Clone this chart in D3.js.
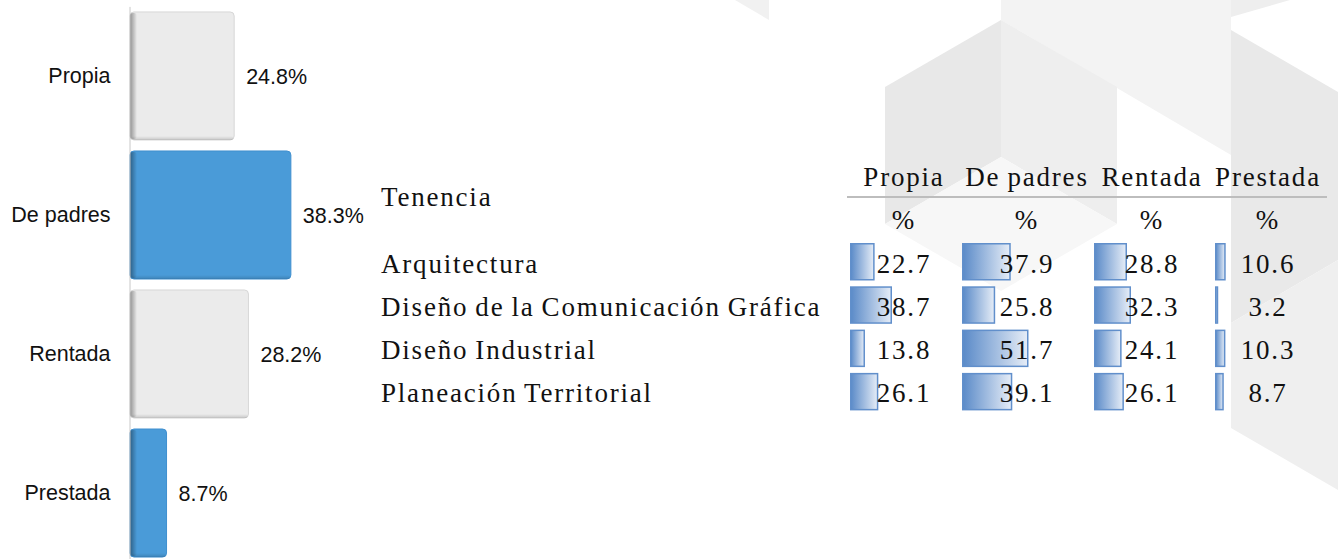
<!DOCTYPE html>
<html><head><meta charset="utf-8">
<script src="https://cdn.jsdelivr.net/npm/d3@7"></script>
<style>body{margin:0;background:#fff;} svg{display:block}</style>
</head><body><svg id="c" width="1338" height="559"></svg>
<script>
// ---------- data ----------
const categories = ["Propia", "De padres", "Rentada", "Prestada"];
const totals = [24.8, 38.3, 28.2, 8.7];
const highlighted = [false, true, false, true];
const tableTitle = "Tenencia";
const programs = ["Arquitectura", "Diseño de la Comunicación Gráfica", "Diseño Industrial", "Planeación Territorial"];
const propia = [22.7, 38.7, 13.8, 26.1];
const dePadres = [37.9, 25.8, 51.7, 39.1];
const rentada = [28.8, 32.3, 24.1, 26.1];
const prestada = [10.6, 3.2, 10.3, 8.7];
const unitLabel = "%";

// ---------- layout / style ----------
const W = 1338, H = 559;
const svg = d3.select("#c");
const defs = svg.append("defs");

// background decoration (faceted light-gray pattern)
const decor = [
  {f:"#f1f1f1", p:[[735,0],[769,0],[769,20]]},
  {f:"#f3f3f3", p:[[1001,0],[1231,0],[1231,155],[1117,88],[1001,20]]},
  {f:"#e8e8e8", p:[[885,87],[1001,20],[1001,157],[885,224]]},
  {f:"#eeeeee", p:[[1001,20],[1117,87],[1117,224],[1001,157]]},
  {f:"#f7f7f7", p:[[885,224],[1001,157],[1117,224],[1001,291]]},
  {f:"#eeeeee", p:[[1231,0],[1290,0],[1231,17]]},
  {f:"#e9e9e9", p:[[1231,30],[1338,92],[1338,260],[1231,323]]},
  {f:"#efefef", p:[[1231,323],[1338,260],[1338,490],[1231,428]]}
];
svg.append("g").selectAll("polygon").data(decor).join("polygon")
  .attr("points", d => d.p.map(q => q.join(",")).join(" "))
  .attr("fill", d => d.f);

// ---------- left bar chart ----------
const sans = "'Liberation Sans', Arial, sans-serif";
const x = d3.scaleLinear().domain([0, 100]).range([130, 550]);
const y = d3.scaleBand().domain(categories).range([6.4, 562.6]).paddingInner(0.079).paddingOuter(0.04);

const lg = defs.append("linearGradient").attr("id","leftShade").attr("x1",0).attr("x2",1).attr("y1",0).attr("y2",0);
lg.append("stop").attr("offset",0).attr("stop-color","#000").attr("stop-opacity",0.38);
lg.append("stop").attr("offset",1).attr("stop-color","#000").attr("stop-opacity",0);
const bg = defs.append("linearGradient").attr("id","botShade").attr("x1",0).attr("x2",0).attr("y1",0).attr("y2",1);
bg.append("stop").attr("offset",0).attr("stop-color","#000").attr("stop-opacity",0);
bg.append("stop").attr("offset",1).attr("stop-color","#000").attr("stop-opacity",0.15);

const barsData = categories.map((c,i) => ({c, v: totals[i], h: highlighted[i]}));
const gb = svg.append("g");
const bar = gb.selectAll("g.bar").data(barsData).join("g").attr("class","bar");
bar.append("rect")
  .attr("x", x(0)).attr("y", d => y(d.c))
  .attr("width", d => x(d.v) - x(0)).attr("height", y.bandwidth())
  .attr("rx", 4)
  .attr("fill", d => d.h ? "#4a9bd8" : "#ebebeb")
  .attr("stroke", d => d.h ? "#3f8fcf" : "#d7d7d7").attr("stroke-width", 1);
bar.append("rect")
  .attr("x", x(0)).attr("y", d => y(d.c) + 1)
  .attr("width", 7).attr("height", y.bandwidth() - 2)
  .attr("rx", 3).attr("fill", "url(#leftShade)");
bar.append("rect")
  .attr("x", x(0) + 2).attr("y", d => y(d.c) + y.bandwidth() - 4)
  .attr("width", d => x(d.v) - x(0) - 3).attr("height", 4)
  .attr("rx", 2).attr("fill", "url(#botShade)");
bar.append("text")
  .attr("x", d => x(d.v) + 12).attr("y", d => y(d.c) + y.bandwidth()/2)
  .attr("dy", "0.36em")
  .attr("font-family", sans).attr("font-size", 21.5).attr("fill", "#111")
  .text(d => d.v.toFixed(1) + "%");

const axis = svg.append("g").attr("transform", `translate(${x(0) - 0.5},0)`)
  .call(d3.axisLeft(y).tickSize(0).tickPadding(19));
axis.select(".domain").attr("stroke", "#c8c8c8");
axis.selectAll(".tick text").attr("font-family", sans).attr("font-size", 21.5).attr("fill", "#111");

// ---------- right table with data bars ----------
const serif = "'Liberation Serif', 'Times New Roman', serif";
const columns = [propia, dePadres, rentada, prestada];
const colCenter = [904, 1027, 1152, 1268];
const colBarStart = [850, 962, 1094, 1215];
const colBarMax = [42, 66.5, 37, 10.7];
const tbl = svg.append("g")
  .attr("font-family", serif).attr("font-size", 27).attr("fill", "#111")
  .attr("letter-spacing", "1.8px").attr("word-spacing", "-1.5px");

const row = d3.scaleBand().domain(programs).range([243, 410.4]).paddingInner(0.134).paddingOuter(0);
const baseOff = 29.5;

tbl.append("text").attr("x", 381).attr("y", 206).text(tableTitle);
tbl.selectAll("text.lab").data(programs).join("text").attr("class","lab")
  .attr("x", 381).attr("y", d => row(d) + baseOff).text(d => d);

tbl.selectAll("text.hdr").data(categories).join("text").attr("class","hdr")
  .attr("x", (d,i) => colCenter[i]).attr("y", 186).attr("text-anchor","middle").text(d => d);
tbl.append("line").attr("x1", 847).attr("x2", 1327).attr("y1", 197).attr("y2", 197)
  .attr("stroke", "#bdbdbd").attr("stroke-width", 2);
tbl.selectAll("text.unit").data(categories).join("text").attr("class","unit")
  .attr("x", (d,i) => colCenter[i]).attr("y", 229).attr("text-anchor","middle").text(unitLabel);

const dg = defs.append("linearGradient").attr("id","dataBar").attr("x1",0).attr("x2",1).attr("y1",0).attr("y2",0);
dg.append("stop").attr("offset",0).attr("stop-color","#5a8ac8");
dg.append("stop").attr("offset",1).attr("stop-color","#e6edf7");

columns.forEach((col, ci) => {
  const s = d3.scaleLinear().domain([0, d3.max(col)]).range([0, colBarMax[ci]]);
  const g = tbl.append("g");
  g.selectAll("rect").data(col).join("rect")
    .attr("x", colBarStart[ci] + 0.75).attr("y", (d,i) => row(programs[i]) + 0.75)
    .attr("width", d => Math.max(1, s(d) - 1.5)).attr("height", row.bandwidth() - 1.5)
    .attr("fill", "url(#dataBar)").attr("stroke", "#618fcb").attr("stroke-width", 1.5);
  g.selectAll("text").data(col).join("text")
    .attr("x", colCenter[ci]).attr("y", (d,i) => row(programs[i]) + baseOff)
    .attr("text-anchor", "middle").text(d => d.toFixed(1));
});
</script></body></html>
